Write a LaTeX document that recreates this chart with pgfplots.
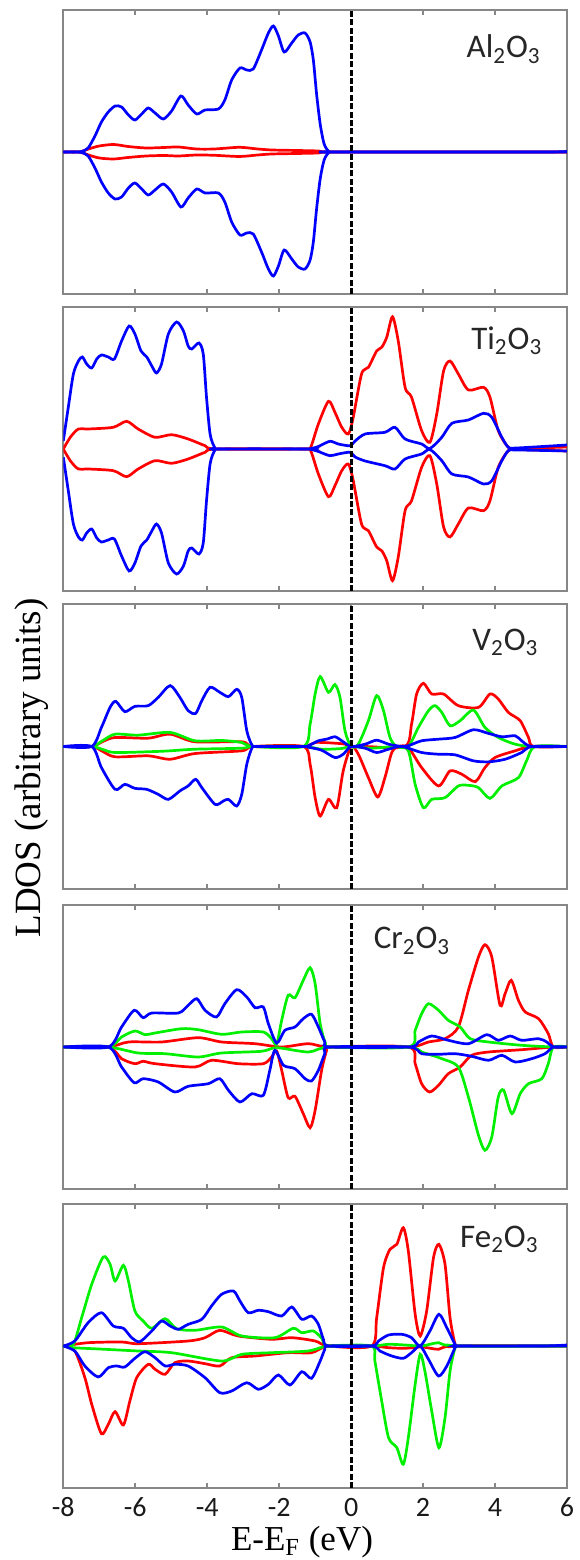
\documentclass[border=0pt]{standalone}
\usepackage{fontspec}
\setmainfont{Liberation Serif}
\newfontfamily\calib{Carlito}
\usepackage{pgfplots}
\pgfplotsset{compat=1.18}
\definecolor{fr}{RGB}{135,135,135}
\definecolor{cB}{RGB}{0,0,255}
\definecolor{cR}{RGB}{255,0,0}
\definecolor{cG}{RGB}{0,240,0}
\pgfplotsset{ldos/.style={
  scale only axis, width=251.85pt, height=142pt,
  xmin=-8, xmax=6, ymin=-142, ymax=142,
  axis line style={fr, line width=1pt},
  xtick={-8,-6,-4,-2,0,2,4,6}, ytick=\empty,
  xticklabels={},
  tick style={fr, line width=0.9pt},
  major tick length=2.6pt,
  tick align=inside,
  no markers,
  every axis plot/.append style={line width=1.35pt, smooth, tension=0.45},
  anchor=south west,
}}
\newcommand{\zeroline}{\addplot[black, line width=1.4pt, dash pattern=on 3pt off 1.2pt, sharp plot] coordinates {(0,-142) (0,142)};}
\newcommand{\lab}{\calib\fontsize{16.5}{19}\selectfont}
\begin{document}
\begin{tikzpicture}
\useasboundingbox (0,0) rectangle (289.5pt,780pt);
% ---------------- Al2O3
\begin{axis}[ldos, at={(31.65pt,633pt)}]
\addplot[cR] coordinates {(-8,0) (-7.55,0) (-7.3,3) (-7.0,6) (-6.6,7.5) (-6.2,5.5) (-5.7,4) (-5.2,4.5) (-4.8,5) (-4.3,3) (-3.8,3) (-3.1,4.7) (-2.6,3) (-2.2,2) (-1.5,1.5) (-0.9,1) (-0.6,0) (6,0)};
\addplot[cR] coordinates {(-8,0) (-7.55,0) (-7.3,-3) (-7.0,-6) (-6.6,-7) (-6.2,-5.5) (-5.7,-4) (-5.2,-3.5) (-4.8,-4) (-4.3,-3) (-3.8,-3.3) (-3.1,-4.5) (-2.6,-3) (-2.2,-2) (-1.5,-1.5) (-0.9,-1) (-0.6,0) (6,0)};
\addplot[cB] coordinates {(-8,0) (-7.68,0) (-7.49,0.5) (-7.31,4) (-7.12,16) (-6.94,30) (-6.75,40) (-6.56,46) (-6.38,45) (-6.19,37) (-6.01,32) (-5.82,38) (-5.64,44) (-5.45,39) (-5.22,33) (-4.99,41) (-4.73,56) (-4.53,47) (-4.29,38) (-4.06,42) (-3.69,43) (-3.51,52) (-3.32,72) (-3.09,84) (-2.90,82) (-2.72,83) (-2.49,102) (-2.30,119) (-2.16,126) (-2.02,116) (-1.86,100) (-1.65,109) (-1.47,117) (-1.28,119) (-1.14,110) (-1.05,92) (-0.96,58) (-0.86,28) (-0.75,8) (-0.62,0.5) (-0.5,0) (5.4,0) (6,1)};
\addplot[cB] coordinates {(-8,0) (-7.68,0) (-7.49,-0.5) (-7.31,-4) (-7.12,-16) (-6.94,-30) (-6.75,-41) (-6.56,-47) (-6.38,-45) (-6.19,-36) (-6.01,-31) (-5.82,-37) (-5.64,-43) (-5.45,-38) (-5.22,-32) (-4.99,-40) (-4.73,-55) (-4.53,-46) (-4.29,-37) (-4.06,-41) (-3.69,-41) (-3.51,-50) (-3.32,-70) (-3.09,-83) (-2.90,-81) (-2.72,-82) (-2.49,-100) (-2.30,-117) (-2.16,-124) (-2.02,-114) (-1.86,-98) (-1.65,-107) (-1.47,-115) (-1.28,-117) (-1.14,-108) (-1.05,-90) (-0.96,-57) (-0.86,-27) (-0.75,-8) (-0.62,-0.5) (-0.5,0) (6,0)};
\zeroline
\node[anchor=base west, inner sep=0pt, font=\lab, black!85] at (axis cs:3.2,94) {Al\textsubscript{2}O\textsubscript{3}};
\end{axis}
% ---------------- Ti2O3
\begin{axis}[ldos, at={(31.65pt,484.5pt)}]
\addplot[cR] coordinates {(-8,0) (-7.8,12) (-7.58,20) (-7.31,20) (-6.61,21.7) (-6.24,27.7) (-5.92,20) (-5.45,11.7) (-4.99,14.3) (-4.53,10) (-4.06,3.3) (-3.74,0) (-1.25,0) (-1.12,2) (-0.91,25) (-0.63,47.7) (-0.45,36.7) (-0.26,21.7) (-0.08,15) (0.05,30) (0.29,75) (0.48,81.7) (0.71,98) (0.85,101.7) (0.99,111.7) (1.15,132.3) (1.31,108) (1.50,61.7) (1.68,51.7) (1.96,18.3) (2.19,6.7) (2.38,35) (2.57,78) (2.75,88) (2.98,75) (3.26,59) (3.68,61.7) (3.86,51.7) (4.09,18.3) (4.37,1.7) (4.6,0.5) (6,2)};
\addplot[cR] coordinates {(-8,0) (-7.8,-12) (-7.58,-20) (-7.31,-20) (-6.61,-21.7) (-6.24,-27.7) (-5.92,-20) (-5.45,-11.7) (-4.99,-14.3) (-4.53,-10) (-4.06,-3.3) (-3.74,0) (-1.25,0) (-1.12,-2) (-0.91,-25) (-0.63,-47.7) (-0.45,-36.7) (-0.26,-21.7) (-0.08,-15) (0.05,-30) (0.29,-75) (0.48,-81.7) (0.71,-98) (0.85,-101.7) (0.99,-111.7) (1.15,-131.7) (1.31,-108) (1.50,-61.7) (1.68,-51.7) (1.96,-18.3) (2.19,-6.7) (2.38,-35) (2.57,-78) (2.75,-88) (2.98,-75) (3.26,-59) (3.68,-61.7) (3.86,-51.7) (4.09,-18.3) (4.37,-1.7) (4.6,-0.5) (6,-2)};
\addplot[cB] coordinates {(-8,8) (-7.86,42) (-7.72,75) (-7.58,88) (-7.47,92) (-7.35,85) (-7.21,81) (-7.07,90) (-6.94,94) (-6.75,92) (-6.58,90) (-6.38,108) (-6.17,123) (-6.01,115) (-5.84,98) (-5.68,92) (-5.54,83) (-5.41,76) (-5.27,85) (-5.08,115) (-4.85,127) (-4.66,118) (-4.53,103) (-4.43,100) (-4.23,106) (-4.11,95) (-4.02,52) (-3.92,15) (-3.80,2) (-3.69,0) (-1.2,0) (-1.05,1) (-0.91,2.5) (-0.59,7.7) (-0.36,5) (-0.03,3.3) (0.11,8) (0.39,15) (0.94,16.7) (1.22,21.7) (1.50,10) (1.96,5) (2.19,0.5) (2.52,11.7) (2.80,25.7) (3.26,29) (3.68,35.7) (3.91,31.7) (4.19,11.7) (4.37,1.7) (4.6,1) (6,4)};
\addplot[cB] coordinates {(-8,-8) (-7.86,-42) (-7.72,-75) (-7.58,-88) (-7.47,-91) (-7.35,-84) (-7.21,-80) (-7.07,-89) (-6.94,-93) (-6.75,-91) (-6.58,-90) (-6.38,-107) (-6.17,-122) (-6.01,-114) (-5.84,-97) (-5.68,-91) (-5.54,-82) (-5.41,-75) (-5.27,-84) (-5.08,-114) (-4.85,-125) (-4.66,-117) (-4.53,-102) (-4.43,-99) (-4.23,-105) (-4.11,-94) (-4.02,-52) (-3.92,-15) (-3.80,-2) (-3.69,0) (-1.2,0) (-1.05,-1) (-0.91,-2.5) (-0.59,-6.7) (-0.36,-5) (-0.03,-3.3) (0.11,-8) (0.39,-12) (0.94,-16.7) (1.22,-20) (1.50,-10) (1.96,-5) (2.19,-0.5) (2.52,-11.7) (2.80,-25) (3.26,-28) (3.68,-35) (3.91,-31.7) (4.19,-11.7) (4.37,-1.7) (4.6,-1) (6,-2)};
\zeroline
\node[anchor=base west, inner sep=0pt, font=\lab, black!85] at (axis cs:3.33,99.5) {Ti\textsubscript{2}O\textsubscript{3}};
\end{axis}
% ---------------- V2O3
\begin{axis}[ldos, at={(31.65pt,335.5pt)}, height=142.5pt]
\addplot[cR] coordinates {(-8,0) (-7.21,0) (-6.9,5) (-6.56,9) (-5.64,8.3) (-5.03,12.3) (-4.34,4.7) (-3.04,4.7) (-2.72,0) (-1.33,0) (-1.00,4) (-0.45,3.3) (-0.17,2.3) (0,0) (0.39,0) (1.50,0) (1.68,22.3) (1.82,52.3) (2.01,63) (2.24,52.3) (2.57,52.3) (2.98,40.7) (3.54,39) (3.86,52.3) (4.09,47.3) (4.37,34) (4.70,25.7) (4.93,9) (5.07,0) (6,0)};
\addplot[cR] coordinates {(-8,0) (-7.21,0) (-6.9,-5) (-6.56,-10.3) (-5.64,-9.3) (-5.03,-12.7) (-4.34,-7) (-3.04,-4.3) (-2.72,0) (-1.33,0) (-1.14,-17.7) (-1.00,-51) (-0.86,-69.3) (-0.63,-52.7) (-0.40,-61) (-0.22,-24.3) (0,0) (0.20,-7.7) (0.48,-31) (0.74,-50.3) (0.94,-31) (1.13,-6) (1.31,0) (1.59,-1) (1.96,-21) (2.43,-39.3) (2.75,-24.3) (3.08,-27.7) (3.45,-35) (3.72,-21) (4.00,-11) (4.56,-4.3) (5.02,0) (6,0)};
\addplot[cG] coordinates {(-8,0) (-7.21,0) (-6.9,6) (-6.56,12.3) (-5.92,11.3) (-5.03,14) (-4.34,5.7) (-3.60,6) (-3.04,4) (-2.72,0) (-1.33,0) (-1.14,22.3) (-1.00,52.3) (-0.86,69.7) (-0.63,54) (-0.45,61.7) (-0.31,49) (-0.17,15.7) (0,0) (0.20,2.3) (0.48,25.7) (0.71,50.7) (0.90,35.7) (1.08,9) (1.27,0) (1.59,0) (1.87,19) (2.15,35.7) (2.33,40.7) (2.52,34) (2.75,20.7) (3.03,25.7) (3.40,36.3) (3.72,19) (4.09,9) (4.56,2.3) (5.02,0) (6,0)};
\addplot[cG] coordinates {(-8,0) (-7.21,0) (-6.9,-3) (-6.56,-6) (-5.45,-5) (-5.03,-4.3) (-4.34,-2.7) (-3.04,-1.7) (-2.72,0) (-1.33,0) (-0.82,-2.7) (-0.26,-2) (0,0) (0.57,-1.7) (1.27,0) (1.59,-4.3) (1.78,-37.7) (2.01,-61) (2.24,-52.7) (2.61,-51) (2.98,-39.3) (3.26,-38.7) (3.54,-41) (3.86,-51.7) (4.19,-39.3) (4.65,-31) (4.88,-14) (5.11,0) (6,0)};
\addplot[cB] coordinates {(-8,0) (-7.21,0) (-6.94,19) (-6.70,39) (-6.54,45) (-6.29,34.7) (-6.01,40) (-5.64,40.7) (-5.36,49) (-5.03,60.7) (-4.76,49) (-4.53,35.7) (-4.32,33) (-4.15,45.7) (-3.92,59) (-3.65,54) (-3.41,49.7) (-3.18,57) (-3.04,49) (-2.90,15.7) (-2.75,1) (-2.6,0) (-1.33,0) (-1.19,0.7) (-0.91,5.7) (-0.68,7.3) (-0.45,9.7) (-0.26,5.7) (0,0) (0.39,2.3) (0.71,6.3) (1.04,2.3) (1.41,0) (1.59,0.7) (1.96,5.7) (2.43,7.3) (2.89,9) (3.40,16.7) (3.82,13) (4.19,9.7) (4.56,10.7) (4.74,5.7) (5.02,0) (6,0)};
\addplot[cB] coordinates {(-8,0) (-7.21,0) (-6.94,-21) (-6.56,-42.7) (-6.29,-37.7) (-6.01,-41.7) (-5.68,-42.7) (-5.36,-47.7) (-5.08,-52.7) (-4.76,-44.3) (-4.53,-39.3) (-4.32,-32.7) (-4.15,-41) (-3.78,-57.7) (-3.55,-54.3) (-3.41,-52.7) (-3.18,-59.3) (-3.04,-47.7) (-2.90,-17.7) (-2.75,-1) (-2.6,0) (-1.33,0) (-1.19,-0.7) (-0.82,-3.7) (-0.45,-11) (-0.22,-7.7) (0,0) (0.39,-1.7) (0.71,-6) (1.04,-2.7) (1.41,0) (1.96,-6) (2.43,-7.7) (2.89,-8.3) (3.40,-14.3) (3.82,-15.3) (4.28,-12.7) (4.74,-6) (5.02,0) (6,0)};
\zeroline
\node[anchor=base west, inner sep=0pt, font=\lab, black!85] at (axis cs:3.36,96) {V\textsubscript{2}O\textsubscript{3}};
\end{axis}
% ---------------- Cr2O3
\begin{axis}[ldos, at={(31.65pt,185.5pt)}]
\addplot[cR] coordinates {(-8,0) (-6.75,0) (-6.19,5) (-5.27,5) (-4.25,9.3) (-3.60,5) (-2.67,3.3) (-1.93,0) (-1.19,3.3) (-0.59,0) (1.59,0) (2.15,5) (2.61,8.3) (2.98,20) (3.26,56.7) (3.54,90) (3.72,102.3) (3.91,90) (4.14,41.7) (4.28,53.3) (4.45,66.7) (4.65,46.7) (4.84,35) (5.21,28.3) (5.48,13.3) (5.62,0) (6,0)};
\addplot[cR] coordinates {(-8,0) (-6.75,0) (-6.38,-11.7) (-6.01,-16.7) (-5.78,-14.3) (-5.45,-16.7) (-4.34,-20) (-3.88,-13.3) (-3.14,-16.7) (-2.44,-16.7) (-2.21,-10) (-2.07,-4) (-1.93,-23.3) (-1.75,-50.7) (-1.56,-49.3) (-1.33,-66.7) (-1.14,-80.7) (-1.00,-63.3) (-0.82,-23.3) (-0.68,-3.3) (-0.59,0) (1.59,0) (1.78,-16.7) (1.96,-36.7) (2.18,-45) (2.43,-38.3) (2.70,-26.7) (3.03,-20) (3.35,-8.3) (3.82,-5) (4.74,-2.7) (5.62,0) (6,0)};
\addplot[cG] coordinates {(-8,0) (-6.75,0) (-6.38,10) (-6.01,16) (-5.73,12.3) (-5.45,14) (-4.71,18.3) (-4.25,17.3) (-3.60,12.7) (-3.04,15) (-2.44,15) (-2.21,8.3) (-2.07,2.7) (-1.93,26.7) (-1.75,51.7) (-1.56,49.3) (-1.33,66.7) (-1.14,79.3) (-1.00,63.3) (-0.86,23.3) (-0.71,3.3) (-0.59,0) (1.59,0) (1.78,16.7) (1.96,33.3) (2.15,43.3) (2.43,36.7) (2.70,26.7) (3.03,20) (3.31,8.3) (3.82,5) (4.74,1.7) (5.62,0) (6,0)};
\addplot[cG] coordinates {(-8,0) (-6.75,0) (-5.92,-6) (-5.17,-6.7) (-4.25,-10) (-3.60,-6) (-2.49,-4.3) (-2.07,-0.7) (-1.19,-5) (-0.59,0) (1.59,0) (1.96,-5) (2.52,-11.7) (2.98,-20) (3.26,-50) (3.54,-88.3) (3.72,-103.3) (3.91,-90) (4.09,-50) (4.24,-43.3) (4.47,-66.7) (4.70,-46.7) (4.93,-36.7) (5.30,-31.7) (5.48,-16.7) (5.62,0) (6,0)};
\addplot[cB] coordinates {(-8,0) (-6.75,0) (-6.38,20) (-6.03,36.7) (-5.78,29.3) (-5.54,34) (-4.80,34) (-4.53,41.7) (-4.29,48.3) (-4.06,36.7) (-3.74,30) (-3.51,43.3) (-3.18,57.3) (-2.90,50) (-2.67,39.3) (-2.44,40) (-2.30,23.3) (-2.07,4) (-1.84,16.7) (-1.56,20) (-1.33,28.3) (-1.10,32.7) (-0.91,20) (-0.73,5) (-0.59,0) (1.59,0) (1.87,5) (2.24,11) (2.70,6.7) (3.26,3.3) (3.77,12.3) (4.09,6.7) (4.42,11) (4.74,6.7) (5.21,8.3) (5.44,5) (5.62,0) (6,0)};
\addplot[cB] coordinates {(-8,0) (-6.75,0) (-6.38,-20) (-6.03,-35.7) (-5.78,-31.7) (-5.36,-35) (-4.90,-45) (-4.53,-39.3) (-3.97,-36.7) (-3.65,-31.7) (-3.41,-43.3) (-3.09,-55) (-2.76,-46.7) (-2.44,-48.3) (-2.26,-23.3) (-2.12,-3.3) (-1.88,-18.3) (-1.56,-21.7) (-1.28,-31.7) (-1.10,-34) (-0.91,-23.3) (-0.73,-6.7) (-0.59,0) (1.59,0) (1.96,-6.7) (2.43,-7.3) (2.89,-6.7) (3.35,-9.3) (3.82,-13.3) (4.19,-8.3) (4.56,-15) (5.02,-11.7) (5.39,-6.7) (5.62,0) (6,0)};
\zeroline
\node[anchor=base west, inner sep=0pt, font=\lab, black!85] at (axis cs:0.62,98) {Cr\textsubscript{2}O\textsubscript{3}};
\end{axis}
% ---------------- Fe2O3
\begin{axis}[ldos, at={(31.65pt,36pt)},
  xticklabels={-8,-6,-4,-2,0,2,4,6},
  xticklabel style={font=\calib\fontsize{14}{14}\selectfont, anchor=base, yshift=-14pt, text=black!90}]
\addplot[cR] coordinates {(-8,0) (-7.31,3.3) (-6.38,4) (-5.92,2.3) (-4.53,5) (-4.06,8.3) (-3.65,15.7) (-3.14,10) (-2.21,6.7) (-1.65,8.3) (-1.00,5) (-0.63,0) (0.57,0) (0.71,28.3) (0.90,78.3) (1.08,96.7) (1.27,101.7) (1.45,118.3) (1.59,95) (1.78,31.7) (1.92,10) (2.10,35) (2.29,88.3) (2.44,101.7) (2.61,81.7) (2.75,28.3) (2.89,1.7) (2.98,0) (6,0)};
\addplot[cR] coordinates {(-8,0) (-7.68,-5) (-7.40,-31.7) (-7.21,-58.3) (-6.94,-87.7) (-6.75,-78.3) (-6.56,-65.7) (-6.33,-79) (-6.15,-55) (-5.96,-31.7) (-5.64,-18.3) (-5.45,-23.3) (-5.17,-28.3) (-4.90,-16.7) (-4.53,-15) (-4.06,-17.7) (-3.65,-20) (-3.32,-11.7) (-2.67,-10) (-1.75,-6.7) (-1.10,-6.7) (-0.63,0) (0.57,0) (1.04,-1.7) (1.50,-2.3) (1.96,-1) (2.43,-3.3) (2.89,0) (6,0)};
\addplot[cG] coordinates {(-8,0) (-7.72,1.7) (-7.49,28.3) (-7.21,61.7) (-6.89,89) (-6.70,81.7) (-6.56,65) (-6.33,80.7) (-6.19,65) (-6.01,35) (-5.78,25) (-5.54,17.7) (-5.17,27.3) (-4.85,17.3) (-4.34,15.7) (-3.60,19) (-3.04,10) (-2.12,8.3) (-1.61,17.7) (-1.37,13.3) (-1.05,15) (-0.82,8) (-0.63,0) (0.57,0) (1.04,1.7) (1.5,1) (1.96,0) (2.43,3.3) (2.89,0) (6,0)};
\addplot[cG] coordinates {(-8,0) (-7.72,-1.7) (-6.84,-3.3) (-5.92,-5) (-4.99,-6.7) (-3.60,-15) (-3.04,-8.3) (-2.21,-6.7) (-1.19,-5) (-0.63,0) (0.57,0) (0.66,-15) (0.85,-55) (1.04,-91.7) (1.27,-101.7) (1.45,-118.3) (1.59,-91.7) (1.78,-38.3) (1.92,-8.3) (2.05,-25) (2.24,-65) (2.44,-101.7) (2.61,-71.7) (2.75,-25) (2.89,-1.7) (2.98,0) (6,0)};
\addplot[cB] coordinates {(-8,0) (-7.68,5) (-7.31,23.3) (-6.94,33.3) (-6.61,20) (-6.33,17.7) (-6.10,8.3) (-5.87,4.3) (-5.54,15) (-5.27,25) (-5.03,20) (-4.80,16.7) (-4.53,21.7) (-4.15,26.7) (-3.88,40) (-3.60,51.7) (-3.27,55) (-3.09,45) (-2.86,33.3) (-2.58,35.7) (-2.30,34.3) (-1.93,30) (-1.65,39) (-1.37,26.7) (-1.10,30) (-0.91,21.7) (-0.77,6.7) (-0.63,0) (0.57,0) (0.76,5) (1.04,11) (1.41,11.7) (1.68,8.3) (1.92,0) (2.19,15) (2.44,31.7) (2.66,18.3) (2.89,1.7) (2.98,0) (5.3,0) (6,1)};
\addplot[cB] coordinates {(-8,0) (-7.68,-5) (-7.40,-20) (-7.03,-31) (-6.75,-21.7) (-6.52,-20) (-6.29,-21) (-6.01,-12.3) (-5.73,-5.7) (-5.45,-11.7) (-5.17,-20) (-4.90,-18.3) (-4.53,-20) (-4.06,-31.7) (-3.65,-46.7) (-3.32,-45) (-2.90,-36.7) (-2.58,-43.3) (-2.30,-38.3) (-2.02,-29) (-1.70,-39) (-1.37,-25.7) (-1.10,-32.3) (-0.86,-15) (-0.73,-3.3) (-0.63,0) (0.57,0) (0.80,-5) (1.13,-10) (1.45,-12.3) (1.68,-6.7) (1.92,0) (2.15,-13.3) (2.43,-30) (2.66,-20) (2.89,-1.7) (2.98,0) (6,0)};
\zeroline
\node[anchor=base west, inner sep=0pt, font=\lab, black!85] at (axis cs:3.02,98.5) {Fe\textsubscript{2}O\textsubscript{3}};
\end{axis}
\node[rotate=90, anchor=base, inner sep=0pt, font=\fontsize{18.5}{20}\selectfont] at (20pt,396pt) {LDOS (arbitrary units)};
\node[anchor=base, inner sep=0pt, font=\fontsize{17.5}{20}\selectfont] at (151pt,5pt) {E-E\textsubscript{F} (eV)};
\end{tikzpicture}
\end{document}
